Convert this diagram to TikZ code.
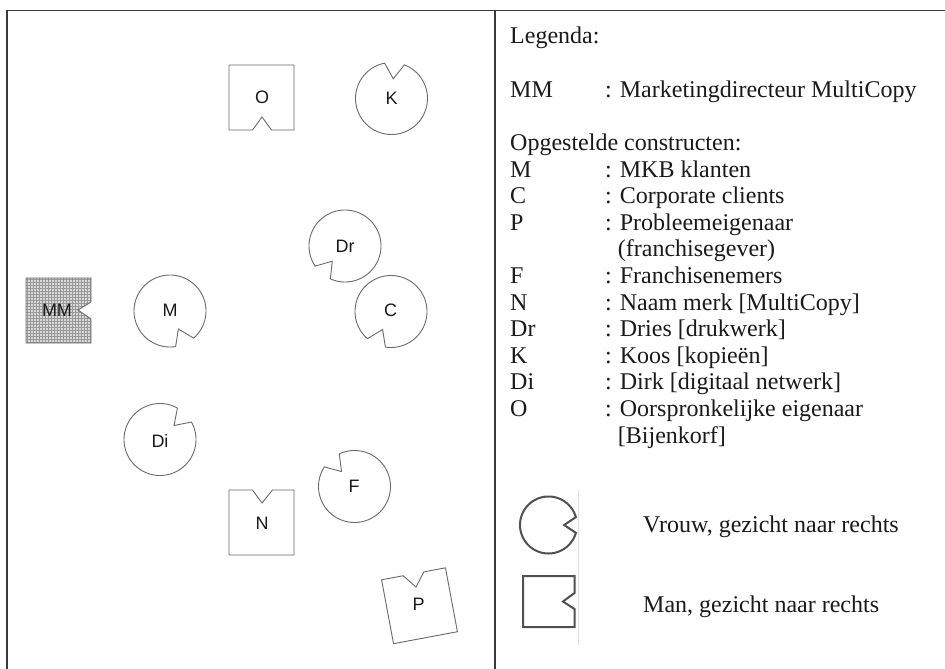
\documentclass[tikz,border=0pt]{standalone}
\usepackage{fontspec}
\setmainfont{Liberation Serif}
\newfontfamily\labelfont{Liberation Sans}
\usetikzlibrary{patterns}
\definecolor{framecol}{HTML}{3A3A3A}
\definecolor{shapecol}{HTML}{6A6A6A}
\definecolor{legcol}{HTML}{505050}
\definecolor{txtcol}{HTML}{1A1A1A}
% circle with a notch: [style]{cx}{cy}{r}{direction}
\newcommand{\womanshape}[5][]{%
  \draw[#1] plot[domain={#5+16}:{#5+344}, samples=90] ({#2+#4*cos(\x)},{#3+#4*sin(\x)})
    -- ({#2+0.55*#4*cos(#5)},{#3+0.55*#4*sin(#5)}) -- cycle;}
\begin{document}
\begin{tikzpicture}[x=1pt,y=-1pt,
  framestyle/.style={draw=framecol, line width=1.6pt},
  shp/.style={draw=shapecol, line width=0.9pt, line join=miter},
  legshp/.style={draw=legcol, line width=2pt, line join=miter},
  lbl/.style={font=\labelfont\fontsize{18}{18}\selectfont, text=txtcol, inner sep=0pt},
  leg/.style={font=\fontsize{24}{24}\selectfont, anchor=base west, inner sep=0pt, text=txtcol}]
\useasboundingbox (0,0) rectangle (945,669);
\fill[white] (0,0) rectangle (945,669);

% frame
\draw[framestyle] (7,669) -- (7,10.5) -- (945,10.5);
\draw[framestyle] (495,10.5) -- (495,669);

% MM (filled man, facing right)
\path[fill=gray!30] (26,278) -- (91,278) -- (91,302) -- (78,310) -- (91,319) -- (91,343) -- (26,343) -- cycle;
\path[pattern=grid, pattern color=gray!80] (26,278) -- (91,278) -- (91,302) -- (78,310) -- (91,319) -- (91,343) -- (26,343) -- cycle;
\draw[shp] (26,278) -- (91,278) -- (91,302) -- (78,310) -- (91,319) -- (91,343) -- (26,343) -- cycle;
\node[lbl] (tMM) at (57,310) {MM};

% O (man, facing down)
\draw[shp] (229,65) -- (294,65) -- (294,130) -- (271.5,130) -- (262,117) -- (252.5,130) -- (229,130) -- cycle;
\node[lbl] (tO) at (262,97.5) {O};

% N (man, facing up)
\draw[shp] (229,490) -- (252.5,490) -- (262,503) -- (272.5,490) -- (294,490) -- (294,555) -- (229,555) -- cycle;
\node[lbl] (tN) at (262,523) {N};

% P (man, rotated)
\begin{scope}[shift={(419.5,605.75)}, rotate=10.6]
\draw[shp] (-32.5,-32.5) -- (-10.5,-32.5) -- (0,-19) -- (10.5,-32.5) -- (32.5,-32.5) -- (32.5,32.5) -- (-32.5,32.5) -- cycle;
\end{scope}
\node[lbl] (tP) at (418.5,604) {P};

% women
\womanshape[shp]{391.5}{98.5}{36}{275}
\node[lbl] (tK) at (391.5,98.5) {K};
\womanshape[shp]{345}{246}{36}{130}
\node[lbl] (tDr) at (345,246.5) {Dr};
\womanshape[shp]{391}{311.5}{36}{115}
\node[lbl] (tC) at (390.5,310) {C};
\womanshape[shp]{170}{311}{36}{65}
\node[lbl] (tM) at (170,310) {M};
\womanshape[shp]{160}{439.5}{36}{315}
\node[lbl] (tDi) at (160,440.5) {Di};
\womanshape[shp]{354.5}{486.5}{36}{229}
\node[lbl] (tF) at (354,486) {F};

% legend text
\node[leg] (l0) at (510,43.3) {Legenda:};
\node[leg] (l1) at (510,97.3) {MM};
\node[leg] (l1b) at (605,97.3) {: Marketingdirecteur MultiCopy};
\node[leg] (l2) at (510,150.5) {Opgestelde constructen:};
\node[leg] (lM) at (510,177) {M};
\node[leg] (lMb) at (605,177) {: MKB klanten};
\node[leg] (lC) at (510,203.6) {C};
\node[leg] (lCb) at (605,203.6) {: Corporate clients};
\node[leg] (lP) at (510,230.2) {P};
\node[leg] (lPb) at (605,230.2) {: Probleemeigenaar};
\node[leg] (lPc) at (617.7,256.8) {(franchisegever)};
\node[leg] (lF) at (510,283.4) {F};
\node[leg] (lFb) at (605,283.4) {: Franchisenemers};
\node[leg] (lN) at (510,310) {N};
\node[leg] (lNb) at (605,310) {: Naam merk [MultiCopy]};
\node[leg] (lDr) at (510,336.6) {Dr};
\node[leg] (lDrb) at (605,336.6) {: Dries [drukwerk]};
\node[leg] (lK) at (510,363.2) {K};
\node[leg] (lKb) at (605,363.2) {: Koos [kopieën]};
\node[leg] (lDi) at (510,389.8) {Di};
\node[leg] (lDib) at (605,389.8) {: Dirk [digitaal netwerk]};
\node[leg] (lO) at (510,416.4) {O};
\node[leg] (lOb) at (605,416.4) {: Oorspronkelijke eigenaar};
\node[leg] (lOc) at (617.7,443) {[Bijenkorf]};

% legend symbols
\draw[gray!25, line width=0.6pt] (578,490) -- (578,645);
\womanshape[legshp]{548.5}{525}{28.5}{0}
\draw[legshp] (523,576) -- (574.5,576) -- (574.5,593) -- (563,601.5) -- (574.5,609) -- (574.5,627) -- (523,627) -- cycle;
\node[leg] (lV) at (643,532.7) {Vrouw, gezicht naar rechts};
\node[leg] (lMan) at (643,612.7) {Man, gezicht naar rechts};
\end{tikzpicture}
\end{document}
